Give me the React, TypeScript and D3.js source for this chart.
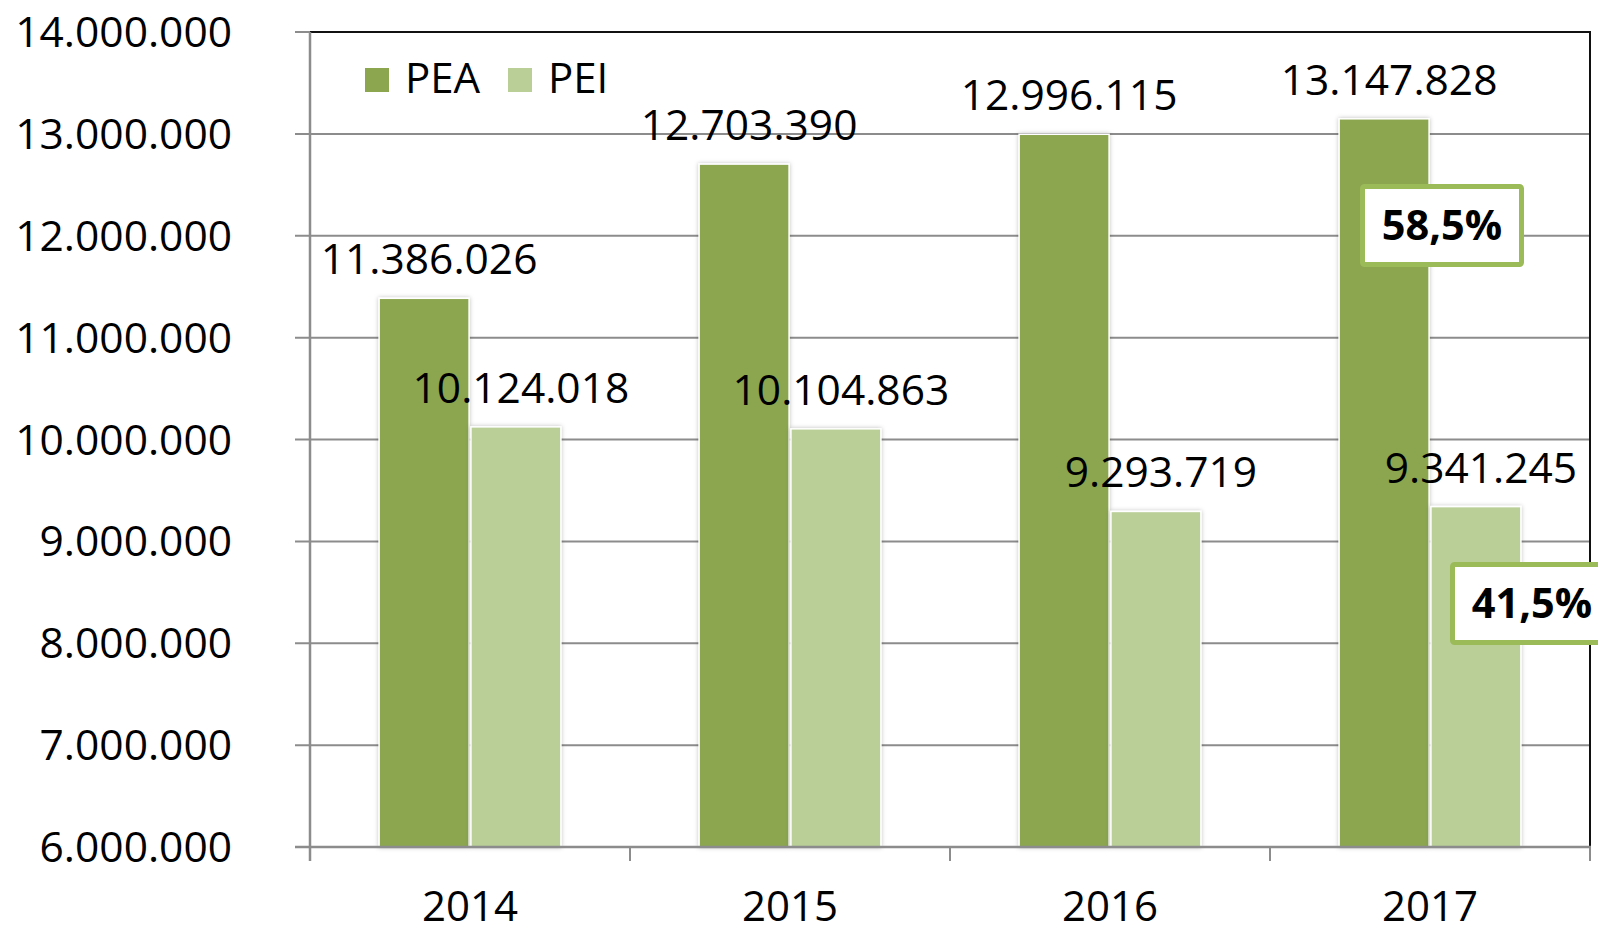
import React from "react";
import * as d3 from "d3";

const years = ["2014", "2015", "2016", "2017"];
const seriesNames = ["PEA", "PEI"];
const pea = [11386026, 12703390, 12996115, 13147828];
const pei = [10124018, 10104863, 9293719, 9341245];
const yTicks = [6000000, 7000000, 8000000, 9000000, 10000000, 11000000, 12000000, 13000000, 14000000];
const colors = ["#8BA64F", "#B9CF97"];

const W = 1598;
const H = 926;
const FONT = "'Open Sans', sans-serif";

const locale = d3.formatLocale({ decimal: ",", thousands: ".", grouping: [3], currency: ["", ""] });
const fmtNum = locale.format(",d");
const fmtPct = locale.format(".1%");

export default function App() {
  const plotL = 310, plotR = 1590, plotT = 32, plotB = 847;
  const y = d3.scaleLinear().domain([6000000, 14000000]).range([plotB, plotT]);
  const x = d3.scaleBand().domain(years).range([plotL, plotR]).padding(0);
  const bw = x.bandwidth();
  const xs = d3.scaleBand().domain(seriesNames).range([bw * 0.216, bw * 0.784]).paddingInner(0.02);
  const series = [pea, pei];

  const lastIdx = years.length - 1;
  const total = pea[lastIdx] + pei[lastIdx];
  const shares = [pea[lastIdx] / total, pei[lastIdx] / total];
  const lastX = x(years[lastIdx])!;

  return (
    <svg width={W} height={H} style={{ position: "absolute", left: 0, top: 0, background: "#fff" }} fontFamily={FONT}>
      <defs>
        <filter id="sh" x="-10%" y="-10%" width="120%" height="120%">
          <feDropShadow dx="0" dy="0" stdDeviation="2" floodColor="#000" floodOpacity="0.25" />
        </filter>
      </defs>
      <rect x={0} y={0} width={W} height={H} fill="#fff" />
      {yTicks.map((t) => (
        <line key={t} x1={295} x2={plotR} y1={y(t)} y2={y(t)} stroke="#8c8c8c" strokeWidth={2} />
      ))}
      <line x1={plotL} x2={plotR + 1} y1={plotT} y2={plotT} stroke="#111" strokeWidth={2} />
      <line x1={plotR} x2={plotR} y1={plotT} y2={plotB} stroke="#111" strokeWidth={2} />
      {yTicks.map((t) => (
        <text key={t} x={232} y={y(t) + 15} textAnchor="end" fontSize={42.5} fill="#000">
          {fmtNum(t)}
        </text>
      ))}
      {years.map((yr, i) =>
        series.map((s, j) => {
          const bx = x(yr)! + xs(seriesNames[j])!;
          return (
            <rect
              key={yr + j}
              x={bx}
              y={y(s[i])}
              width={xs.bandwidth()}
              height={plotB - y(s[i])}
              fill={colors[j]}
              stroke="#fff"
              strokeWidth={1.5}
              filter="url(#sh)"
            />
          );
        })
      )}
      <line x1={plotL} x2={plotL} y1={plotT} y2={861} stroke="#8c8c8c" strokeWidth={2.5} />
      <line x1={295} x2={plotR + 1} y1={plotB} y2={plotB} stroke="#8c8c8c" strokeWidth={2.5} />
      {d3.range(years.length + 1).map((k) => {
        const tx = plotL + k * bw;
        return <line key={k} x1={tx} x2={tx} y1={plotB} y2={861} stroke="#8c8c8c" strokeWidth={2} />;
      })}
      {years.map((yr) => (
        <text key={yr} x={x(yr)! + bw / 2} y={921} textAnchor="middle" fontSize={42} fill="#000">
          {yr}
        </text>
      ))}
      {years.map((yr, i) =>
        series.map((s, j) => {
          const cx = x(yr)! + xs(seriesNames[j])! + xs.bandwidth() / 2 + 5;
          return (
            <text key={"l" + yr + j} x={cx} y={y(s[i]) - 24} textAnchor="middle" fontSize={42.5} fill="#000">
              {fmtNum(s[i])}
            </text>
          );
        })
      )}
      {seriesNames.map((n, j) => {
        const lx = 365 + j * 143;
        return (
          <g key={n}>
            <rect x={lx} y={68} width={24} height={24} fill={colors[j]} />
            <text x={lx + 40} y={93} fontSize={42} fill="#000">
              {n}
            </text>
          </g>
        );
      })}
      {[
        { bx: lastX + 90, by: 184 },
        { bx: lastX + 180, by: 562 },
      ].map((b, j) => (
        <g key={"p" + j}>
          <rect
            x={b.bx + 2.5}
            y={b.by + 2.5}
            width={159}
            height={78}
            rx={2}
            fill="#fff"
            stroke="#9BBB59"
            strokeWidth={5}
          />
          <text x={b.bx + 82} y={b.by + 56} textAnchor="middle" fontSize={41.5} fontWeight="bold" fill="#000">
            {fmtPct(shares[j])}
          </text>
        </g>
      ))}
    </svg>
  );
}
